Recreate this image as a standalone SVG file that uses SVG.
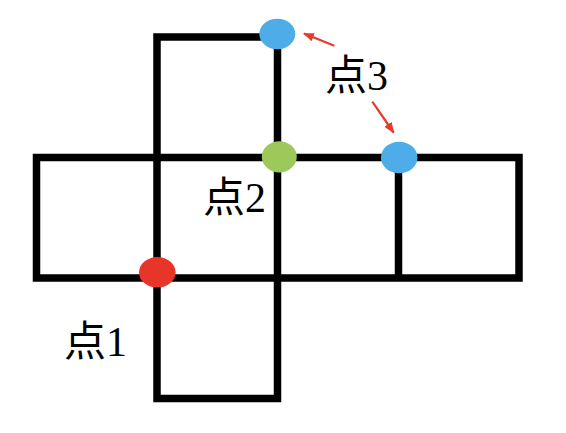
<svg xmlns="http://www.w3.org/2000/svg" width="566" height="433" viewBox="0 0 566 433">
<defs>
<style>
.edge{fill:none;stroke:#000;stroke-width:7.5;stroke-linecap:square;stroke-linejoin:miter}
.lbl{font-family:"Liberation Serif","Noto Sans CJK SC",serif;font-size:42px;fill:#000}
.arr{stroke:#e8392b;stroke-width:2.2;fill:none}
</style>
<marker id="ah" viewBox="0 0 10 10" refX="9" refY="5" markerWidth="5" markerHeight="5" orient="auto" markerUnits="strokeWidth">
<path d="M0,1 L10,5 L0,9 Z" fill="#e8392b"/>
</marker>
</defs>
<rect width="566" height="433" fill="#fff"/>
<g id="net">
<path class="edge" d="M157,157.5 V37 H277.5 V157.5"/>
<path class="edge" d="M36.5,157.5 H519 V278 H36.5 Z"/>
<path class="edge" d="M157,157.5 V398.5 H277.5 V157.5"/>
<path class="edge" d="M398.5,157.5 V277"/>
</g>
<g id="connectors">
<line class="arr" x1="334.3" y1="45.7" x2="304" y2="33.6" marker-end="url(#ah)"/>
<line class="arr" x1="372.3" y1="101.7" x2="393.6" y2="132.5" marker-end="url(#ah)"/>
</g>
<g id="point1">
<ellipse cx="157.3" cy="272.3" rx="18.3" ry="15.3" fill="#e8352a"/>
<text class="lbl" x="64" y="356">点1</text>
</g>
<g id="point2">
<ellipse cx="279.3" cy="156.8" rx="17.5" ry="15.6" fill="#9cc95a"/>
<text class="lbl" x="203" y="212">点2</text>
</g>
<g id="point3a">
<ellipse cx="277.3" cy="34" rx="18" ry="15.3" fill="#4eade8"/>
</g>
<g id="point3b">
<ellipse cx="399.2" cy="157.5" rx="18.3" ry="15.8" fill="#4eade8"/>
<text class="lbl" x="325" y="90">点3</text>
</g>
</svg>
